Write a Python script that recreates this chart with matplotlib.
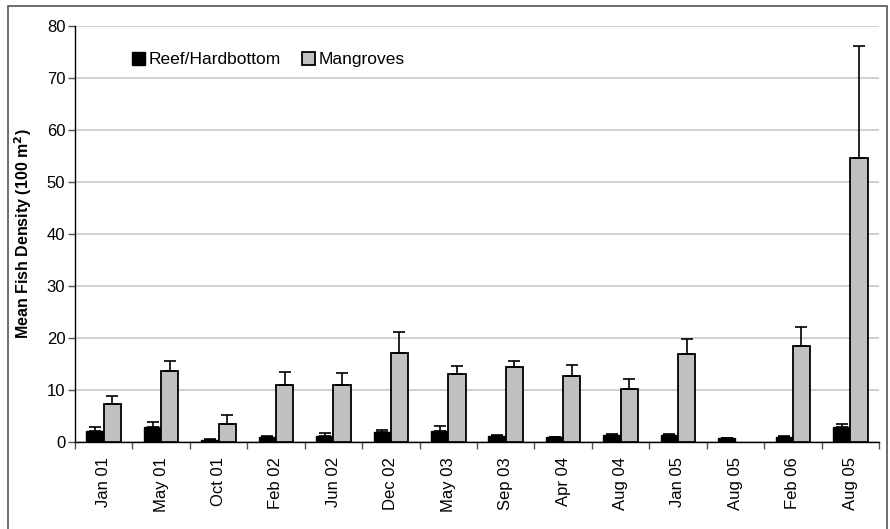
import numpy as np
import matplotlib.pyplot as plt
from matplotlib.patches import Rectangle

plt.rcParams['font.family'] = ['Liberation Sans', 'DejaVu Sans']

# Sampling dates
dates = ['Jan 01', 'May 01', 'Oct 01', 'Feb 02', 'Jun 02', 'Dec 02', 'May 03',
         'Sep 03', 'Apr 04', 'Aug 04', 'Jan 05', 'Aug 05', 'Feb 06', 'Aug 05']

# Mean density and upper error (mean + SE)
reef = [2.2, 2.8, 0.4, 0.9, 1.2, 1.9, 2.1, 1.2, 0.9, 1.3, 1.3, 0.85, 1.0, 2.9]
reef_top = [2.8, 3.9, 0.6, 1.1, 1.7, 2.3, 3.0, 1.35, 1.0, 1.5, 1.6, 0.85, 1.1, 3.5]
mangrove = [7.3, 13.7, 3.5, 11.0, 10.9, 17.2, 13.0, 14.4, 12.7, 10.1, 17.0, 0.0, 18.4, 54.6]
mangrove_top = [8.8, 15.6, 5.2, 13.4, 13.3, 21.2, 14.7, 15.6, 14.9, 12.2, 19.8, 0.0, 22.1, 76.1]

reef_err = np.array(reef_top) - np.array(reef)
mang_err = np.array(mangrove_top) - np.array(mangrove)

fig = plt.figure(figsize=(8.9, 5.29), dpi=100)
ax = fig.add_axes([75 / 890, 1 - 442 / 529, 804 / 890, 416 / 529])

# outer chart border
fig.patches.append(Rectangle((8 / 890, -0.01), 879 / 890, 1 - 6 / 529 + 0.01,
                             transform=fig.transFigure, fill=False,
                             edgecolor='#555555', linewidth=1.2))

x = np.arange(len(dates))
w = 0.3
ax.bar(x - w / 2, reef, w, color='black', edgecolor='black', linewidth=1,
       label='Reef/Hardbottom', zorder=3,
       yerr=[np.zeros(len(reef)), reef_err],
       error_kw=dict(ecolor='black', elinewidth=1.2, capsize=4, capthick=1.2))
mask = np.array(mangrove) > 0
ax.bar(x[mask] + w / 2, np.array(mangrove)[mask], w, color='#C0C0C0',
       edgecolor='black', linewidth=1.3, label='Mangroves', zorder=3,
       yerr=[np.zeros(mask.sum()), mang_err[mask]],
       error_kw=dict(ecolor='black', elinewidth=1.2, capsize=4, capthick=1.2))

ax.set_xlim(-0.5, len(dates) - 0.5)
ax.set_ylim(0, 80)
ax.set_yticks(np.arange(0, 81, 10))
ax.yaxis.grid(True, color='#C8C8C8', linewidth=1.2, zorder=0)
ax.set_axisbelow(True)

ax.set_xticks(x)
ax.set_xticklabels(dates, rotation=90, fontsize=12)
ax.tick_params(axis='x', which='major', length=0, pad=11)
ax.set_xticks(np.arange(-0.5, len(dates), 1), minor=True)
ax.tick_params(axis='x', which='minor', length=5, color='#555555', width=1)
ax.tick_params(axis='y', labelsize=12, length=5, width=1, color='#555555', pad=2)

for s in ['top', 'right']:
    ax.spines[s].set_visible(False)
for s in ['left', 'bottom']:
    ax.spines[s].set_color('black')
    ax.spines[s].set_linewidth(1)

ax.set_ylabel('Mean Fish Density (100 m$^\\mathbf{2}$)', fontsize=11.5,
              fontweight='bold', labelpad=9)

ax.legend(loc='upper left', bbox_to_anchor=(0.052, 0.975), ncol=2, frameon=False,
          fontsize=12.5, handlelength=0.75, handleheight=0.75, handletextpad=0.2,
          columnspacing=1.2)

fig.savefig('out.png', dpi=100)
